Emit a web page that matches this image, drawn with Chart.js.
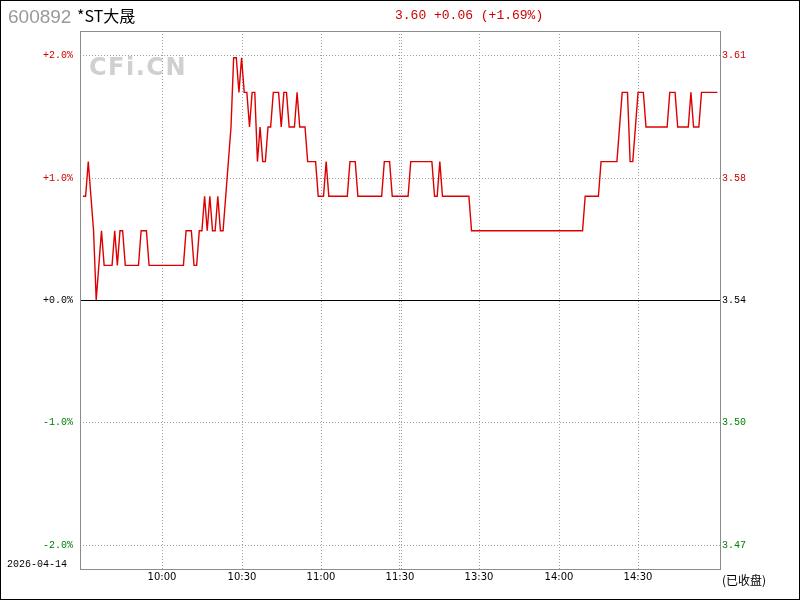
<!DOCTYPE html>
<html>
<head>
<meta charset="utf-8">
<script src="https://cdn.jsdelivr.net/npm/chart.js@4.4.1/dist/chart.umd.min.js"></script>
<style>
  html, body { margin: 0; padding: 0; background: #fff; }
  canvas { display: block; }
</style>
</head>
<body>
<canvas id="c" width="800" height="600"></canvas>
<script>
const stockCode = '600892'
const stockName = '*ST大晟'
const lastClose = 3.54
const quoteText = '3.60 +0.06 (+1.69%)'
const tradeDate = '2026-04-14'
const statusText = '(已收盘)'

// minute prices, 9:30 - 11:30
const morning = [
  3.57, 3.57, 3.58, 3.57, 3.56, 3.54, 3.55, 3.56, 3.55, 3.55,
  3.55, 3.55, 3.56, 3.55, 3.56, 3.56, 3.55, 3.55, 3.55, 3.55,
  3.55, 3.55, 3.56, 3.56, 3.56, 3.55, 3.55, 3.55, 3.55, 3.55,
  3.55, 3.55, 3.55, 3.55, 3.55, 3.55, 3.55, 3.55, 3.55, 3.56,
  3.56, 3.56, 3.55, 3.55, 3.56, 3.56, 3.57, 3.56, 3.57, 3.56,
  3.56, 3.57, 3.56, 3.56, 3.57, 3.58, 3.59, 3.61, 3.61, 3.60,
  3.61, 3.60, 3.60, 3.59, 3.60, 3.60, 3.58, 3.59, 3.58, 3.58,
  3.59, 3.59, 3.60, 3.60, 3.60, 3.59, 3.60, 3.60, 3.59, 3.59,
  3.59, 3.60, 3.59, 3.59, 3.59, 3.58, 3.58, 3.58, 3.58, 3.57,
  3.57, 3.57, 3.58, 3.57, 3.57, 3.57, 3.57, 3.57, 3.57, 3.57,
  3.57, 3.58, 3.58, 3.58, 3.57, 3.57, 3.57, 3.57, 3.57, 3.57,
  3.57, 3.57, 3.57, 3.57, 3.58, 3.58, 3.58, 3.57, 3.57, 3.57,
  3.57
]
// minute prices, 13:01 - 15:00
const afternoon = [
  3.57, 3.57, 3.57, 3.58, 3.58, 3.58, 3.58, 3.58, 3.58, 3.58,
  3.58, 3.58, 3.57, 3.57, 3.58, 3.57, 3.57, 3.57, 3.57, 3.57,
  3.57, 3.57, 3.57, 3.57, 3.57, 3.57, 3.56, 3.56, 3.56, 3.56,
  3.56, 3.56, 3.56, 3.56, 3.56, 3.56, 3.56, 3.56, 3.56, 3.56,
  3.56, 3.56, 3.56, 3.56, 3.56, 3.56, 3.56, 3.56, 3.56, 3.56,
  3.56, 3.56, 3.56, 3.56, 3.56, 3.56, 3.56, 3.56, 3.56, 3.56,
  3.56, 3.56, 3.56, 3.56, 3.56, 3.56, 3.56, 3.56, 3.56, 3.57,
  3.57, 3.57, 3.57, 3.57, 3.57, 3.58, 3.58, 3.58, 3.58, 3.58,
  3.58, 3.58, 3.59, 3.60, 3.60, 3.60, 3.58, 3.58, 3.59, 3.60,
  3.60, 3.60, 3.59, 3.59, 3.59, 3.59, 3.59, 3.59, 3.59, 3.59,
  3.59, 3.60, 3.60, 3.60, 3.59, 3.59, 3.59, 3.59, 3.59, 3.60,
  3.59, 3.59, 3.59, 3.60, 3.60, 3.60, 3.60, 3.60, 3.60, 3.60
]

const pctValues = [2, 1, 0, -1, -2]
const pctLabels = ['+2.0%', '+1.0%', '+0.0%', '-1.0%', '-2.0%']
const priceLabels = ['3.61', '3.58', '3.54', '3.50', '3.47']
const timeMinutes = [30, 60, 90, 120, 150, 180, 210]
const timeLabels = ['10:00', '10:30', '11:00', '11:30', '13:30', '14:00', '14:30']

const RED = '#cc0000'
const GREEN = '#008000'
const span = 0.02196

const prices = morning.concat(afternoon)
const points = prices.map((p, i) => ({ x: i, y: p }))

const frame = {
  id: 'frame',
  beforeDatasetsDraw(chart) {
    const { ctx, chartArea: a, scales: { x, y } } = chart
    ctx.save()

    // watermark
    ctx.fillStyle = '#d0d0d0'
    ctx.font = 'bold 24px "DejaVu Sans"'
    ctx.textBaseline = 'alphabetic'
    ctx.letterSpacing = '1.5px'
    ctx.fillText('CFi.CN', 89, 75)
    ctx.letterSpacing = '0px'

    // dotted grid
    ctx.strokeStyle = '#a0a0a0'
    ctx.lineWidth = 1
    ctx.setLineDash([1, 2])
    pctValues.forEach(p => {
      if (p === 0) return
      const py = Math.round(y.getPixelForValue(lastClose * (1 + p / 100))) + 0.5
      ctx.beginPath()
      ctx.moveTo(a.left, py)
      ctx.lineTo(a.right, py)
      ctx.stroke()
    })
    timeMinutes.forEach(t => {
      const px = Math.round(x.getPixelForValue(t))
      const cols = t === 120 ? [px - 1, px + 1] : [px]
      cols.forEach(cx => {
        ctx.beginPath()
        ctx.moveTo(cx + 0.5, a.top)
        ctx.lineTo(cx + 0.5, a.bottom)
        ctx.stroke()
      })
    })
    ctx.setLineDash([])

    // zero line
    const zy = Math.round(y.getPixelForValue(lastClose)) + 0.5
    ctx.strokeStyle = '#000'
    ctx.beginPath()
    ctx.moveTo(a.left, zy)
    ctx.lineTo(a.right, zy)
    ctx.stroke()
    ctx.restore()
  },
  afterDraw(chart) {
    const { ctx, chartArea: a, scales: { x, y } } = chart
    ctx.save()

    // plot border
    ctx.strokeStyle = '#8c8c8c'
    ctx.lineWidth = 1
    ctx.strokeRect(a.left + 0.5, a.top + 0.5, a.right - a.left, a.bottom - a.top)

    // outer frame
    ctx.strokeStyle = '#000'
    ctx.strokeRect(0.5, 0.5, 799, 599)

    // left / right tick labels
    ctx.font = '10px "Liberation Mono"'
    ctx.textBaseline = 'middle'
    pctValues.forEach((p, i) => {
      const py = Math.round(y.getPixelForValue(lastClose * (1 + p / 100))) + 0.5
      ctx.fillStyle = p > 0 ? RED : p < 0 ? GREEN : '#000'
      ctx.textAlign = 'right'
      ctx.fillText(pctLabels[i], 73, py)
      ctx.textAlign = 'left'
      ctx.fillText(priceLabels[i], 722, py)
    })

    // time labels
    ctx.fillStyle = '#000'
    ctx.font = '10px "DejaVu Sans"'
    ctx.textAlign = 'center'
    timeMinutes.forEach((t, i) => {
      ctx.fillText(timeLabels[i], Math.round(x.getPixelForValue(t)), 577)
    })

    ctx.textAlign = 'left'
    ctx.font = '10px "Liberation Mono"'
    ctx.fillText(tradeDate, 7, 564)
    ctx.font = '12px "Noto Sans CJK SC"'
    ctx.fillText(statusText, 722, 580)

    // header
    ctx.textBaseline = 'alphabetic'
    ctx.fillStyle = '#999'
    ctx.font = '19px "Liberation Sans"'
    ctx.fillText(stockCode, 8, 23)
    ctx.fillStyle = '#000'
    ctx.font = '16px "Noto Sans CJK SC"'
    ctx.fillText(stockName, 77, 22)
    ctx.fillStyle = RED
    ctx.font = '13px "Liberation Mono"'
    ctx.fillText(quoteText, 395, 19)
    ctx.restore()
  }
}

new Chart(document.getElementById('c'), {
  type: 'line',
  data: {
    datasets: [{
      data: points,
      borderColor: '#dd0000',
      borderWidth: 1.4,
      pointRadius: 0,
      tension: 0,
      fill: false
    }]
  },
  options: {
    responsive: false,
    animation: false,
    devicePixelRatio: 1,
    layout: { padding: { left: 80, right: 80, top: 31, bottom: 31 } },
    scales: {
      x: { type: 'linear', display: false, min: -1.13, max: 241 },
      y: { display: false, min: lastClose * (1 - span), max: lastClose * (1 + span) }
    },
    plugins: { legend: { display: false }, tooltip: { enabled: false } }
  },
  plugins: [frame]
})
</script>
</body>
</html>
